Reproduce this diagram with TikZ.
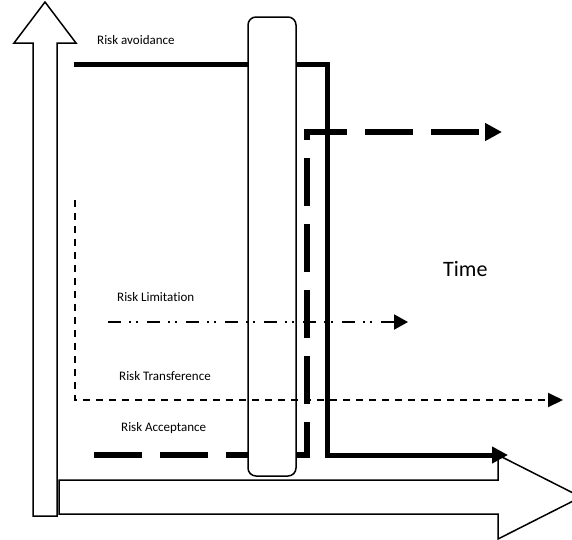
\documentclass[tikz,border=0pt]{standalone}
\usepackage{fontspec}
\setmainfont{Carlito}[Ligatures=NoCommon]
\usepackage{tikz}
\usetikzlibrary{arrows.meta}
\tikzstyle{bigarrow} = [draw=black, fill=white, line width=1.5pt]
\tikzstyle{riskname} = [anchor=base west, inner sep=0pt, font=\fontsize{13}{15}\selectfont]
\tikzstyle{riskavoid} = [line width=5pt, -{Triangle[length=16pt,width=16pt]}]
\tikzstyle{riskaccept} = [line width=5.5pt, dash pattern=on 48pt off 18pt, -{Triangle[length=17pt,width=17pt]}]
\tikzstyle{risktransfer} = [line width=2pt, dash pattern=on 7pt off 6pt, -{Triangle[length=15pt,width=14pt]}]
\tikzstyle{risklimit} = [line width=2pt, dash pattern=on 13pt off 8pt on 2pt off 5pt on 2pt off 9pt, -{Triangle[length=14pt,width=15pt]}]

\begin{document}
\begin{tikzpicture}[x=1pt, y=-1pt]
    \clip (0,0) rectangle (572,539);
    % axes
    \draw [bigarrow] (33,516) -- (33,43) -- (14,43) -- (45,2) -- (76,43) -- (57,43) -- (57,516) -- cycle;
    \draw [bigarrow] (59,480) -- (498,480) -- (498,455) -- (581,497) -- (498,539) -- (498,514) -- (59,514) -- cycle;
    \coordinate (avoidstart) at (74,64);
    \coordinate (avoidend) at (508,455);
    \coordinate (acceptstart) at (94,455);
    \coordinate (acceptend) at (502,132);
    \coordinate (transferstart) at (75,200);
    \coordinate (transferend) at (563,400);
    \coordinate (limitstart) at (108,322);
    \coordinate (limitend) at (408,322);
    \draw [riskavoid] (avoidstart) -| (327,455) -- (avoidend);
    \draw [riskaccept] (acceptstart) -| (307,132) -- (acceptend);
    \node (holdbar) [draw, fill=white, line width=1.5pt, rounded corners=8pt, minimum width=48pt, minimum height=459pt] at (272,246.5) {};
    \draw [risktransfer] (transferstart) |- (transferend);
    \draw [risklimit] (limitstart) -- (limitend);
    % labels
    \node (avoidance) [riskname] at (97,44) {Risk avoidance};
    \node (limitation) [riskname] at (117,301) {Risk Limitation};
    \node (transference) [riskname] at (119,380) {Risk Transference};
    \node (acceptance) [riskname] at (121,431) {Risk Acceptance};
    \node (time) [riskname, font=\fontsize{22}{26}\selectfont] at (443,276) {Time};
\end{tikzpicture}
\end{document}
